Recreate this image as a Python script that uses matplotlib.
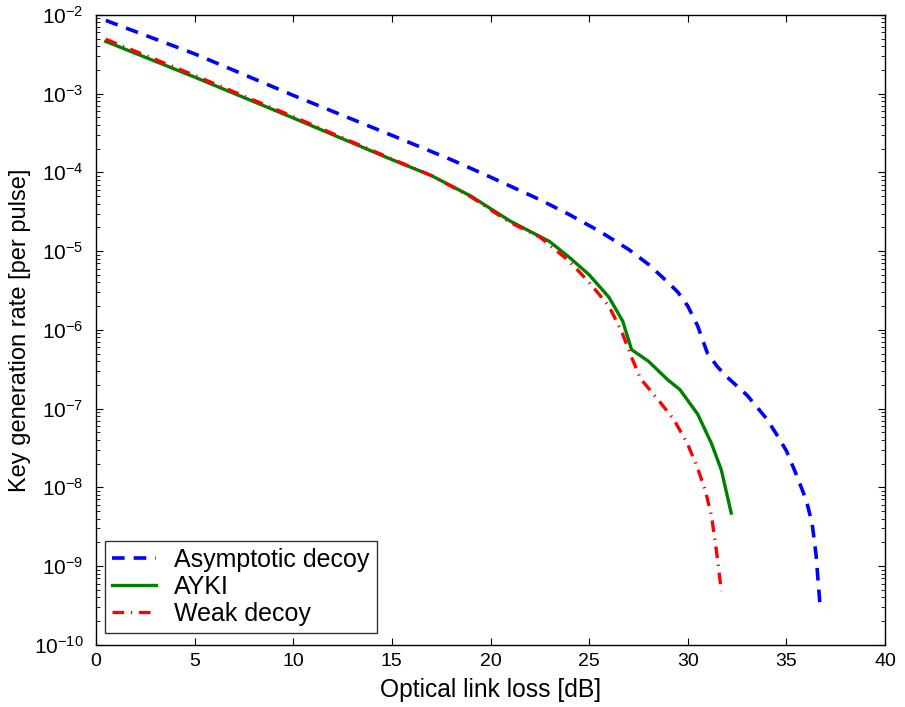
#!/usr/bin/env python3
"""Key generation rate vs optical link loss."""

import matplotlib
matplotlib.use("Agg")
import matplotlib.pyplot as plt
from matplotlib.ticker import NullFormatter

plt.rcParams["font.family"] = ["Liberation Sans", "DejaVu Sans"]
plt.rcParams["mathtext.fontset"] = "custom"
plt.rcParams["mathtext.rm"] = "Liberation Sans"
plt.rcParams["mathtext.it"] = "Liberation Sans:italic"

# Asymptotic decoy
asym_loss = [0.5, 5, 10, 15, 18, 20, 22.5, 24, 25.5, 27, 28, 29, 29.5, 30, 30.5,
             31, 31.5, 32, 33, 34, 34.5, 35, 35.5, 36, 36.3, 36.5, 36.7]
asym_rate = [8.5e-3, 3.2e-3, 9.5e-4, 2.95e-4, 1.45e-4, 8.7e-5, 4.5e-5, 2.9e-5,
             1.8e-5, 1.05e-5, 6.8e-6, 4.0e-6, 3.0e-6, 2.0e-6, 1.12e-6,
             5.0e-7, 3.4e-7, 2.5e-7, 1.48e-7, 7.4e-8, 4.7e-8, 2.9e-8, 1.45e-8,
             6.9e-9, 3.5e-9, 1.4e-9, 3.2e-10]

# AYKI
ayki_loss = [0.5, 5, 10, 15, 17, 19, 21, 23, 24, 25, 26, 26.7, 27.15, 28, 29,
             29.6, 30.5, 31.2, 31.7, 32.2]
ayki_rate = [4.6e-3, 1.62e-3, 4.9e-4, 1.45e-4, 9.1e-5, 5.0e-5, 2.4e-5, 1.32e-5,
             8.3e-6, 5.0e-6, 2.6e-6, 1.29e-6, 5.6e-7, 4.0e-7, 2.3e-7,
             1.74e-7, 8.5e-8, 3.6e-8, 1.66e-8, 4.7e-9]

# Weak decoy
weak_loss = [0.5, 5, 10, 15, 17, 19, 21, 22.5, 24, 25, 26, 26.65, 27.1, 27.6,
             28.5, 29.3, 30, 30.5, 30.9, 31.2, 31.4, 31.55, 31.7]
weak_rate = [4.9e-3, 1.7e-3, 5.1e-4, 1.48e-4, 9.1e-5, 4.9e-5, 2.3e-5, 1.51e-5,
             7.4e-6, 4.0e-6, 2.0e-6, 9.5e-7, 4.8e-7, 2.4e-7,
             1.29e-7, 7.2e-8, 3.5e-8, 1.74e-8, 8.9e-9, 4.3e-9, 1.95e-9,
             9.8e-10, 4.8e-10]

x_ticks = list(range(0, 41, 5))
y_decades = list(range(-10, -1))

fig = plt.figure(figsize=(9.05, 7.07), dpi=100)
ax = fig.add_axes([0.106, 0.088, 0.872, 0.891])

ax.plot(asym_loss, asym_rate, color=(0, 0, 1), linestyle=(0, (3.5, 2.5)),
        linewidth=2.6, label="Asymptotic decoy")
ax.plot(ayki_loss, ayki_rate, color=(0, 0.5, 0), linestyle="-",
        linewidth=2.4, label="AYKI")
ax.plot(weak_loss, weak_rate, color=(1, 0, 0), linestyle=(0, (3.5, 2, 0.4, 2)),
        linewidth=2.4, label="Weak decoy")

ax.set_yscale("log")
ax.set_xlim(0, 40)
ax.set_ylim(1e-10, 1e-2)
ax.set_xticks(x_ticks)
ax.set_yticks([10.0 ** k for k in y_decades])
ax.set_yticks([m * 10.0 ** k for k in y_decades[:-1] for m in range(2, 10)], minor=True)
ax.yaxis.set_minor_formatter(NullFormatter())

ax.tick_params(which="both", direction="in", top=True, right=True)
ax.tick_params(which="major", length=5, width=0.8)
ax.tick_params(which="minor", length=3, width=0.6)
ax.tick_params(axis="x", labelsize=14, pad=6)
ax.tick_params(axis="y", labelsize=15, pad=9)
for spine in ax.spines.values():
    spine.set_linewidth(1.0)

ax.set_xlabel("Optical link loss [dB]", fontsize=17.7, labelpad=6)
ax.set_ylabel("Key generation rate [per pulse]", fontsize=17, labelpad=2)

leg = ax.legend(loc="lower left", bbox_to_anchor=(9 / 789, 12 / 630),
                borderaxespad=0, fontsize=18, frameon=True, fancybox=False,
                edgecolor="black", handlelength=1.75, handletextpad=0.75,
                labelspacing=0.12, borderpad=0.28)
leg.get_frame().set_linewidth(1.0)

fig.savefig("out.png", dpi=100)
